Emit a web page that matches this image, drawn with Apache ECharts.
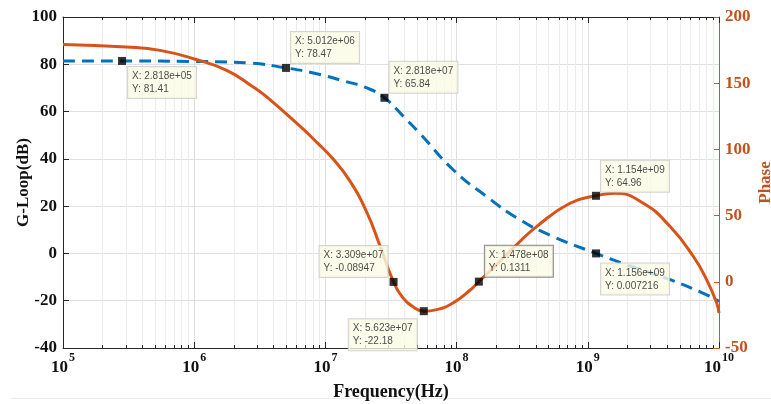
<!DOCTYPE html>
<html>
<head>
<meta charset="utf-8">
<script src="https://cdn.jsdelivr.net/npm/echarts@6/dist/echarts.min.js"></script>
<style>
  html, body { margin: 0; padding: 0; background: #fff; overflow: hidden; width: 771px; height: 404px; }
  #chart { width: 771px; height: 404px; }
</style>
</head>
<body>
<div id="chart"></div>
<script>
// Loop gain (dB) sampled along frequency (Hz)
const gainFreq = [1e5, 1e6, 2.66e6, 8.57e6, 1.37e7, 2.07e7, 4e7, 5.26e7, 9.46e7, 1.7e8, 3.04e8, 5.46e8, 1.98e9, 4.24e9, 8.06e9, 1e10];
const gainDb   = [81.4, 81.2, 80.5, 76.0, 73.0, 70.0, 57.5, 50.7, 35.3, 24.0, 14.2, 7.1, -4.8, -11.1, -17.5, -20.3];

// Loop phase (deg) sampled along frequency (Hz)
const phaseFreq = [1e5, 3.05e5, 5.48e5, 1e6, 1.77e6, 2.82e6, 3.57e6, 6.4e6, 8.57e6, 1.15e7, 1.54e7, 2.07e7, 2.61e7, 3.93e7, 4.6e7, 7.05e7, 9.46e7, 1.27e8, 2e8, 2.86e8, 4.07e8, 7.31e8, 1.61e9, 2.65e9, 4.24e9, 6.38e9, 8.06e9, 9.6e9, 1e10];
const phaseDeg  = [179.3, 177.3, 174.8, 168.3, 159.7, 147.1, 139.6, 117.5, 105.5, 92.5, 76.0, 52.5, 27.0, -12.5, -18.5, -21.0, -15.8, -6.2, 12.6, 27.9, 41.7, 59.3, 66.8, 59.3, 41.7, 19.1, 1.5, -16.0, -23.6];

// Data cursors on the gain curve
const tipGainFreq = [2.818e5, 5.012e6, 2.818e7, 1.156e9];
const tipGainDb   = [81.41, 78.47, 65.84, 0.007216];

// Data cursors on the phase curve
const tipPhaseFreq = [3.309e7, 5.623e7, 1.478e8, 1.154e9];
const tipPhaseDeg  = [-0.08947, -22.18, 0.1311, 64.96];

// Axis tick values
const leftTicks = { min: -40, max: 100, step: 20 };
const rightTicks = { min: -50, max: 200, step: 50 };
const decades = { min: 1e5, max: 1e10 };

const BLUE = '#0072BD';
const ORANGE = '#D95319';
const AXIS = '#262626';
const SERIF = '"Liberation Serif", "Times New Roman", serif';

function pairs(xs, ys) {
  return xs.map((x, i) => [x, ys[i]]);
}
function merged(xs, ys, txs, tys) {
  return pairs(xs, ys).concat(pairs(txs, tys)).sort((a, b) => a[0] - b[0]);
}
function fmtX(x) {
  return x.toExponential(3).replace(/e([+-])(\d)$/, 'e$10$2');
}
function fmtY(y) {
  return String(Number(y.toPrecision(4)));
}

// Minor log-decade positions (2..9 in every decade)
const minorFreqs = [];
for (let e = 5; e < 10; e++) {
  for (let m = 2; m <= 9; m++) minorFreqs.push([m * Math.pow(10, e), 0]);
}

// Where each data-cursor box sits relative to its marker
const tipBoxGain = [
  { align: 'left', verticalAlign: 'top', offset: [6, 6] },
  { align: 'left', verticalAlign: 'bottom', offset: [5, -5] },
  { align: 'left', verticalAlign: 'bottom', offset: [5, -5] },
  { align: 'left', verticalAlign: 'top', offset: [5, 10] }
];
const tipBoxPhase = [
  { align: 'right', verticalAlign: 'bottom', offset: [-6, -5] },
  { align: 'right', verticalAlign: 'top', offset: [-7, 8] },
  { align: 'left', verticalAlign: 'bottom', offset: [6, -5], dark: true },
  { align: 'left', verticalAlign: 'bottom', offset: [5, -4] }
];

function tipData(xs, ys, boxes) {
  return xs.map((x, i) => {
    const b = boxes[i];
    return {
      value: [x, ys[i]],
      label: {
        show: true,
        position: 'inside',
        align: b.align,
        verticalAlign: b.verticalAlign,
        offset: b.offset,
        borderColor: b.dark ? '#6e6e6e' : '#c9c9c9'
      }
    };
  });
}

const tipLabel = {
  show: true,
  formatter: p => '{t|X: ' + fmtX(p.value[0]) + '}\n{t|Y: ' + fmtY(p.value[1]) + '}',
  width: 61,
  backgroundColor: '#fbfbe6',
  borderWidth: 1,
  padding: [3, 3, 2, 4],
  rich: {
    t: {
      align: 'left',
      fontFamily: '"Liberation Sans", Arial, sans-serif',
      fontSize: 10,
      lineHeight: 13,
      color: '#1a1a1a'
    }
  }
};

const chart = echarts.init(document.getElementById('chart'), null, { renderer: 'canvas', width: 771, height: 404 });

chart.setOption({
  animation: false,
  backgroundColor: '#ffffff',
  grid: { left: 63, right: 52, top: 17, bottom: 56, containLabel: false, outerBoundsMode: 'none' },
  graphic: [{
    type: 'line',
    shape: { x1: 10, y1: 398.5, x2: 771, y2: 398.5 },
    style: { stroke: '#ececec', lineWidth: 1 },
    silent: true
  }],
  xAxis: [{
    type: 'log',
    logBase: 10,
    min: decades.min,
    max: decades.max,
    name: 'Frequency(Hz)',
    nameLocation: 'middle',
    nameGap: 35,
    nameMoveOverlap: false,
    nameTextStyle: { fontFamily: SERIF, fontWeight: 'bold', fontSize: 18, color: '#111' },
    axisLine: { onZero: false, lineStyle: { color: AXIS, width: 1 } },
    axisTick: { inside: true, length: 6, lineStyle: { color: AXIS } },
    splitLine: { show: true, lineStyle: { color: '#dedede', width: 1 } },
    axisLabel: {
      margin: 4,
      formatter: v => '{b|10}{s|' + Math.round(Math.log10(v)) + '}',
      rich: {
        b: { fontFamily: SERIF, fontWeight: 'bold', fontSize: 17, color: '#111', lineHeight: 24, verticalAlign: 'bottom' },
        s: { fontFamily: SERIF, fontWeight: 'bold', fontSize: 12, color: '#111', lineHeight: 24, verticalAlign: 'top', padding: [0, 0, 0, 1] }
      }
    }
  }, {
    type: 'log',
    logBase: 10,
    position: 'top',
    min: decades.min,
    max: decades.max,
    axisLine: { onZero: false, lineStyle: { color: AXIS, width: 1 } },
    axisTick: { inside: true, length: 6, lineStyle: { color: AXIS } },
    axisLabel: { show: false },
    splitLine: { show: false }
  }],
  yAxis: [{
    type: 'value',
    min: leftTicks.min,
    max: leftTicks.max,
    interval: leftTicks.step,
    name: 'G-Loop(dB)',
    nameLocation: 'middle',
    nameRotate: 90,
    nameGap: 31,
    nameMoveOverlap: false,
    nameTextStyle: { fontFamily: SERIF, fontWeight: 'bold', fontSize: 17, color: '#111' },
    axisLine: { show: true, onZero: false, lineStyle: { color: AXIS, width: 1 } },
    axisTick: { show: true, inside: true, length: 6, lineStyle: { color: AXIS } },
    splitLine: { show: true, lineStyle: { color: '#e0e0e0', width: 1 } },
    axisLabel: { margin: 6, fontFamily: SERIF, fontWeight: 'bold', fontSize: 17, color: '#111' }
  }, {
    type: 'value',
    position: 'right',
    min: rightTicks.min,
    max: rightTicks.max,
    interval: rightTicks.step,
    name: 'Phase',
    nameLocation: 'middle',
    nameRotate: 90,
    nameGap: 38,
    nameMoveOverlap: false,
    nameTextStyle: { fontFamily: SERIF, fontWeight: 'bold', fontSize: 17, color: '#c4521a' },
    axisLine: { show: true, onZero: false, lineStyle: { color: ORANGE, width: 1 } },
    axisTick: { show: true, inside: true, length: 6, lineStyle: { color: ORANGE } },
    splitLine: { show: false },
    axisLabel: { margin: 6, fontFamily: SERIF, fontWeight: 'bold', fontSize: 17, color: '#c4521a' }
  }],
  series: [{
    // minor decade grid lines and ticks on the bottom and top edges
    type: 'custom',
    xAxisIndex: 0,
    yAxisIndex: 0,
    z: 1,
    silent: true,
    data: minorFreqs,
    renderItem: (params, api) => {
      const cs = params.coordSys;
      const x = Math.round(api.coord([api.value(0), 0])[0]) + 0.5;
      const top = cs.y, bot = cs.y + cs.height;
      return {
        type: 'group',
        children: [
          { type: 'line', shape: { x1: x, y1: top, x2: x, y2: bot }, style: { stroke: '#ececec', lineWidth: 1 } },
          { type: 'line', shape: { x1: x, y1: bot, x2: x, y2: bot - 3 }, style: { stroke: AXIS, lineWidth: 1 } },
          { type: 'line', shape: { x1: x, y1: top, x2: x, y2: top + 3 }, style: { stroke: AXIS, lineWidth: 1 } }
        ]
      };
    }
  }, {
    name: 'G-Loop',
    type: 'line',
    xAxisIndex: 0,
    yAxisIndex: 0,
    z: 3,
    data: merged(gainFreq, gainDb, tipGainFreq, tipGainDb),
    smooth: 0.5,
    showSymbol: false,
    lineStyle: { color: BLUE, width: 3, type: [12, 7] }
  }, {
    name: 'Phase',
    type: 'line',
    xAxisIndex: 0,
    yAxisIndex: 1,
    z: 3,
    data: merged(phaseFreq, phaseDeg, tipPhaseFreq, tipPhaseDeg),
    smooth: 0.5,
    showSymbol: false,
    lineStyle: { color: ORANGE, width: 3 }
  }, {
    type: 'scatter',
    xAxisIndex: 0,
    yAxisIndex: 0,
    z: 5,
    symbol: 'rect',
    symbolSize: 8,
    itemStyle: { color: '#000' },
    label: tipLabel,
    data: tipData(tipGainFreq, tipGainDb, tipBoxGain)
  }, {
    type: 'scatter',
    xAxisIndex: 0,
    yAxisIndex: 1,
    z: 5,
    symbol: 'rect',
    symbolSize: 8,
    itemStyle: { color: '#000' },
    label: tipLabel,
    data: tipData(tipPhaseFreq, tipPhaseDeg, tipBoxPhase)
  }]
});
</script>
</body>
</html>
